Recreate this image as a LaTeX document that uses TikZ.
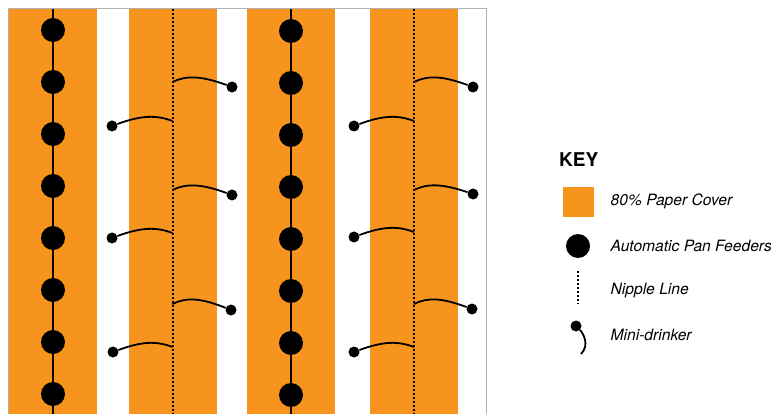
\documentclass[tikz,border=0pt]{standalone}
\usepackage{fontspec}
\setmainfont{TeX Gyre Heros}
\definecolor{papercover}{RGB}{247,148,30}
\definecolor{framegray}{RGB}{178,178,178}
\tikzset{
  feeder/.style={circle, fill=black, inner sep=0pt, minimum size=24pt},
  ball/.style={circle, fill=black, inner sep=0pt, minimum size=11pt},
  nipple/.style={line width=2pt, dash pattern=on 2pt off 2pt},
  tube/.style={line width=1.8pt},
  keytext/.style={anchor=west, inner sep=0pt, font=\fontsize{15.6}{18}\selectfont\itshape}
}
\begin{document}
\begin{tikzpicture}[x=1pt, y=-1pt]
  \useasboundingbox (0,0) rectangle (771,414);

  % Paper bands
  \foreach \x/\w in {9/88, 129/88, 247/88, 370/88}
    \fill[papercover] (\x,9) rectangle ++(\w,405);
  \draw[framegray, line width=1pt] (8.5,414) -- (8.5,8.5) -- (486,8.5) -- (486,414);

  % Feeder lines
  \coordinate (lineAtop) at (53,9);
  \coordinate (lineAbot) at (53,414);
  \coordinate (lineBtop) at (291,9);
  \coordinate (lineBbot) at (291,414);
  \draw[line width=1.6pt] (lineAtop) -- (lineAbot);
  \draw[line width=1.6pt] (lineBtop) -- (lineBbot);
  \foreach \n/\y in {1/30, 2/82, 3/134, 4/186, 5/238, 6/290, 7/342, 8/394} {
    \node[feeder] (feedA\n) at (53,\y) {};
    \node[feeder] (feedB\n) at (291,\y+1) {};
  }

  % Nipple lines
  \coordinate (nipAtop) at (172.5,9);
  \coordinate (nipAbot) at (172.5,414);
  \coordinate (nipBtop) at (414,9);
  \coordinate (nipBbot) at (414,414);
  \draw[nipple] (nipAtop) -- (nipAbot);
  \draw[nipple] (nipBtop) -- (nipBbot);

  % Mini-drinkers
  \foreach \n/\xa/\xb/\yj/\yb in {A1/172.5/232/82/87, A2/172.5/232/190/195, A3/172.5/231/304/310,
                                  B1/414/473/82/87, B2/414/473/190/194, B3/414/472/304/309} {
    \coordinate (tap\n) at (\xa,\yj);
    \node[ball] (drink\n) at (\xb,\yb) {};
    \draw[tube] (tap\n) .. controls (\xa+14,\yj-7) and (\xb-30,\yj-6) .. (drink\n);
  }
  \foreach \n/\xa/\xb/\yj/\yb in {C1/172.5/112/121/126, C2/172.5/112/233/238, C3/172.5/113/347/352,
                                  D1/414/354/121/126, D2/414/354/232/237, D3/414/354/347/352} {
    \coordinate (tap\n) at (\xa,\yj);
    \node[ball] (drink\n) at (\xb,\yb) {};
    \draw[tube] (tap\n) .. controls (\xa-16,\yj-6) and (\xb+30,\yj-6) .. (drink\n);
  }

  % Key
  \node[anchor=west, inner sep=0pt, font=\fontsize{19}{22}\selectfont\bfseries] (keyhead) at (559,160) {KEY};
  \fill[papercover] (563,187) rectangle (594,217);
  \node[feeder] (keyfeeder) at (578,246) {};
  \coordinate (keynipA) at (578,271);
  \coordinate (keynipB) at (578,304);
  \draw[nipple, line width=1.5pt] (keynipA) -- (keynipB);
  \node[ball] (keyball) at (576,326) {};
  \coordinate (keytube) at (581,354);
  \draw[tube] (keyball) .. controls (583,333) and (590,345) .. (keytube);
  \node[keytext] (keyA) at (610.5,201) {80\% Paper Cover};
  \node[keytext] (keyB) at (610.5,245.5) {Automatic Pan Feeders};
  \node[keytext] (keyC) at (610.5,290) {Nipple Line};
  \node[keytext] (keyD) at (610.5,334.5) {Mini-drinker};
\end{tikzpicture}
\end{document}
